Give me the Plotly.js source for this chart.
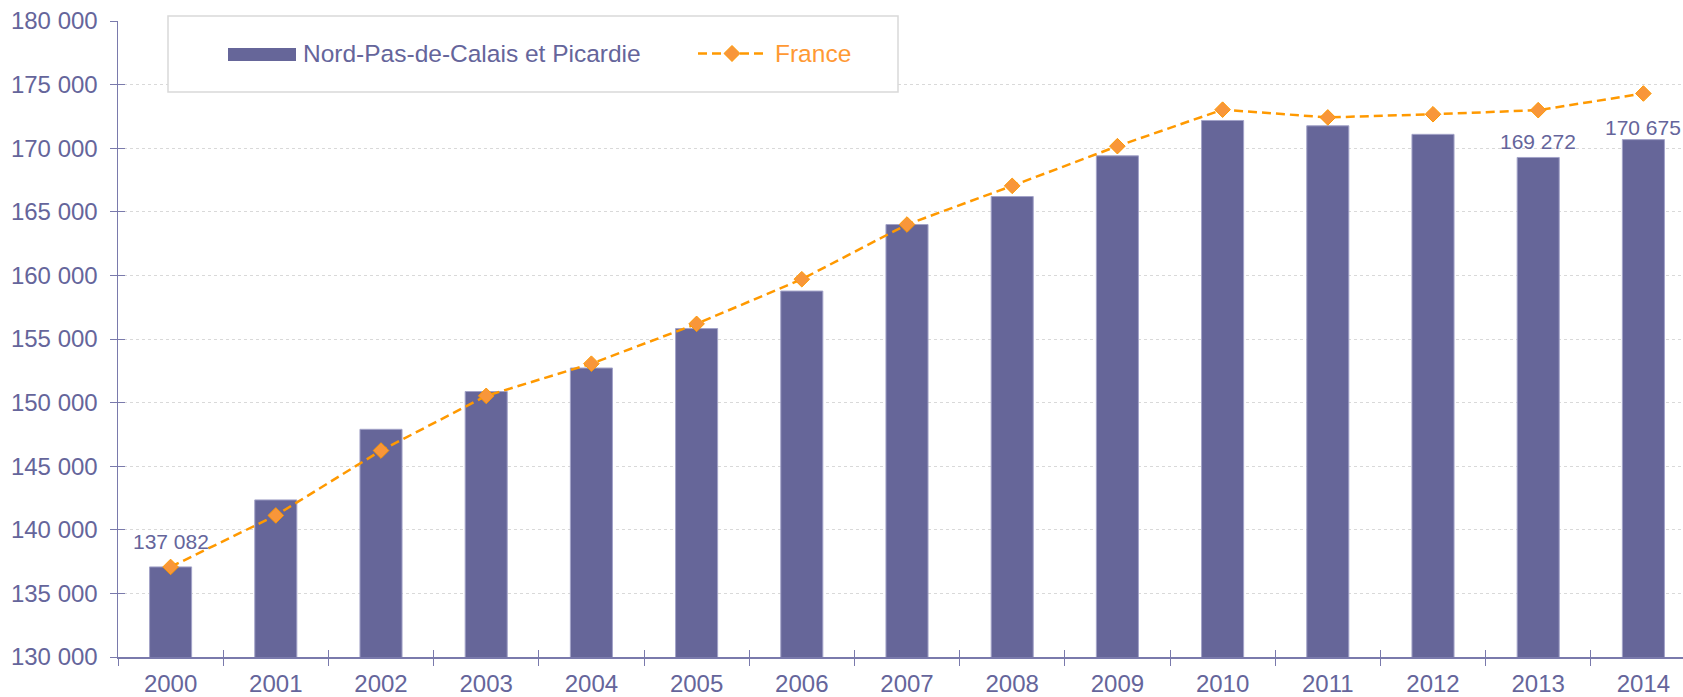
<!DOCTYPE html>
<html>
<head>
<meta charset="utf-8">
<script src="https://cdn.plot.ly/plotly-3.0.1.min.js"></script>
<style>
html, body { margin: 0; padding: 0; background: #ffffff; overflow: hidden; }
#chart { width: 1683px; height: 697px; }
</style>
</head>
<body>
<div id="chart"></div>
<script>
// ---- data ----
const years = ['2000','2001','2002','2003','2004','2005','2006','2007','2008','2009','2010','2011','2012','2013','2014'];
const regionValues = [137082, 142350, 147900, 150870, 152720, 155820, 158770, 164000, 166200, 169400, 172180, 171760, 171090, 169272, 170675];
const franceValues = [137080, 141130, 146230, 150530, 153060, 156190, 159700, 164000, 167040, 170160, 173030, 172420, 172670, 172990, 174300];
const seriesNames = ['Nord-Pas-de-Calais et Picardie', 'France'];
const labelledYears = ['2000', '2013', '2014'];
const yTickStep = 5000;
const yMin = 130000, yMax = 180000;

// ---- style ----
const textColor = '#65659b';
const barColor = '#666699';
const axisColor = '#7a7aac';
const orange = '#ff9900';
const font = 'Liberation Sans, Arial, sans-serif';

const W = 1683, H = 697;
const M = { l: 118, r: 0, t: 21, b: 39.5 };
const PW = W - M.l - M.r, PH = H - M.t - M.b;
const catPx = 105.2;
const xRange = [-0.5, -0.5 + PW / catPx];
const px2x = p => (p - M.l) / PW;
const py2y = p => (H - M.b - p) / PH;

function fmt(v) { return String(v).replace(/\B(?=(\d{3})+(?!\d))/g, ' '); }

const bars = {
  type: 'bar', x: years, y: regionValues, name: seriesNames[0],
  width: 0.4,
  marker: { color: barColor, line: { color: '#a3a3c8', width: 1 } },
  hoverinfo: 'x+y', showlegend: false
};
const line = {
  type: 'scatter', mode: 'lines+markers', x: years, y: franceValues, name: seriesNames[1],
  line: { color: orange, width: 2.5, dash: '9px,5px' },
  marker: { symbol: 'diamond', size: 12, color: '#f8963a', line: { color: orange, width: 1 } },
  showlegend: false
};
const dummy = { type: 'scatter', x: [], y: [], xaxis: 'x2', yaxis: 'y2', showlegend: false, hoverinfo: 'skip' };

const labelShift = { '2000': 25, '2013': 16, '2014': 12 };
const annotations = labelledYears.map(yr => {
  const i = years.indexOf(yr);
  return {
    x: i, y: regionValues[i], xref: 'x', yref: 'y',
    text: fmt(regionValues[i]), showarrow: false,
    yanchor: 'middle', xanchor: 'center', yshift: labelShift[yr],
    font: { family: font, size: 21, color: textColor }
  };
});

// legend (manual)
const lg = { x0: 168, x1: 898, y0: 16, y1: 92, cy: 53.5 };
annotations.push({
  xref: 'paper', yref: 'paper', x: px2x(301), y: py2y(lg.cy), xanchor: 'left', yanchor: 'middle',
  text: seriesNames[0], showarrow: false, font: { family: font, size: 24.5, color: textColor }
});
annotations.push({
  xref: 'paper', yref: 'paper', x: px2x(773), y: py2y(lg.cy), xanchor: 'left', yanchor: 'middle',
  text: seriesNames[1], showarrow: false, font: { family: font, size: 24.5, color: '#ff9933' }
});
const dcx = 732, dcy = lg.cy, dr = 8;
const shapes = [
  { type: 'rect', xref: 'paper', yref: 'paper', x0: px2x(lg.x0), x1: px2x(lg.x1), y0: py2y(lg.y1), y1: py2y(lg.y0),
    fillcolor: '#ffffff', line: { color: '#d9d9d9', width: 1.5 } },
  { type: 'rect', xref: 'paper', yref: 'paper', x0: px2x(228), x1: px2x(296), y0: py2y(61), y1: py2y(48),
    fillcolor: barColor, line: { width: 0 } },
  { type: 'line', xref: 'paper', yref: 'paper', x0: px2x(698), x1: px2x(767), y0: py2y(lg.cy), y1: py2y(lg.cy),
    line: { color: orange, width: 2.5, dash: '9px,5px' } },
  { type: 'path', xref: 'paper', yref: 'paper',
    path: `M${px2x(dcx - dr)},${py2y(dcy)} L${px2x(dcx)},${py2y(dcy - dr)} L${px2x(dcx + dr)},${py2y(dcy)} L${px2x(dcx)},${py2y(dcy + dr)} Z`,
    fillcolor: '#f8963a', line: { color: orange, width: 1 } }
];

const layout = {
  width: W, height: H,
  margin: M,
  paper_bgcolor: '#ffffff', plot_bgcolor: '#ffffff',
  separators: ', ',
  font: { family: font, size: 24, color: textColor },
  bargap: 0.6,
  xaxis: {
    type: 'category', range: xRange, tickson: 'boundaries',
    ticks: 'outside', ticklen: 7, tickcolor: axisColor, tickwidth: 1,
    showline: true, linecolor: axisColor, linewidth: 1.5,
    showgrid: false, zeroline: false, ticklabelstandoff: 5,
    tickfont: { family: font, size: 24, color: textColor }
  },
  yaxis: {
    range: [yMin, yMax], dtick: yTickStep, tick0: yMin, tickformat: ',d',
    ticks: 'outside', ticklen: 7, tickcolor: axisColor, tickwidth: 1,
    showline: true, linecolor: axisColor, linewidth: 1.5,
    showgrid: true, gridcolor: '#d9d9d9', griddash: 'dot', gridwidth: 1,
    zeroline: false, ticklabelstandoff: 7,
    tickfont: { family: font, size: 24, color: textColor }
  },
  xaxis2: {
    overlaying: 'x', anchor: 'y', range: xRange,
    tickmode: 'array', tickvals: years.map((_, i) => i - 0.5).concat([years.length - 0.5]),
    ticks: 'inside', ticklen: 7, tickcolor: axisColor, tickwidth: 1,
    showticklabels: false, showgrid: false, showline: false, zeroline: false
  },
  yaxis2: {
    overlaying: 'y', anchor: 'x', range: [yMin, yMax], dtick: yTickStep, tick0: yMin,
    ticks: 'inside', ticklen: 7, tickcolor: axisColor, tickwidth: 1,
    showticklabels: false, showgrid: false, showline: false, zeroline: false
  },
  showlegend: false,
  annotations: annotations,
  shapes: shapes
};

Plotly.newPlot('chart', [bars, line, dummy], layout, { displayModeBar: false, staticPlot: true });
</script>
</body>
</html>
